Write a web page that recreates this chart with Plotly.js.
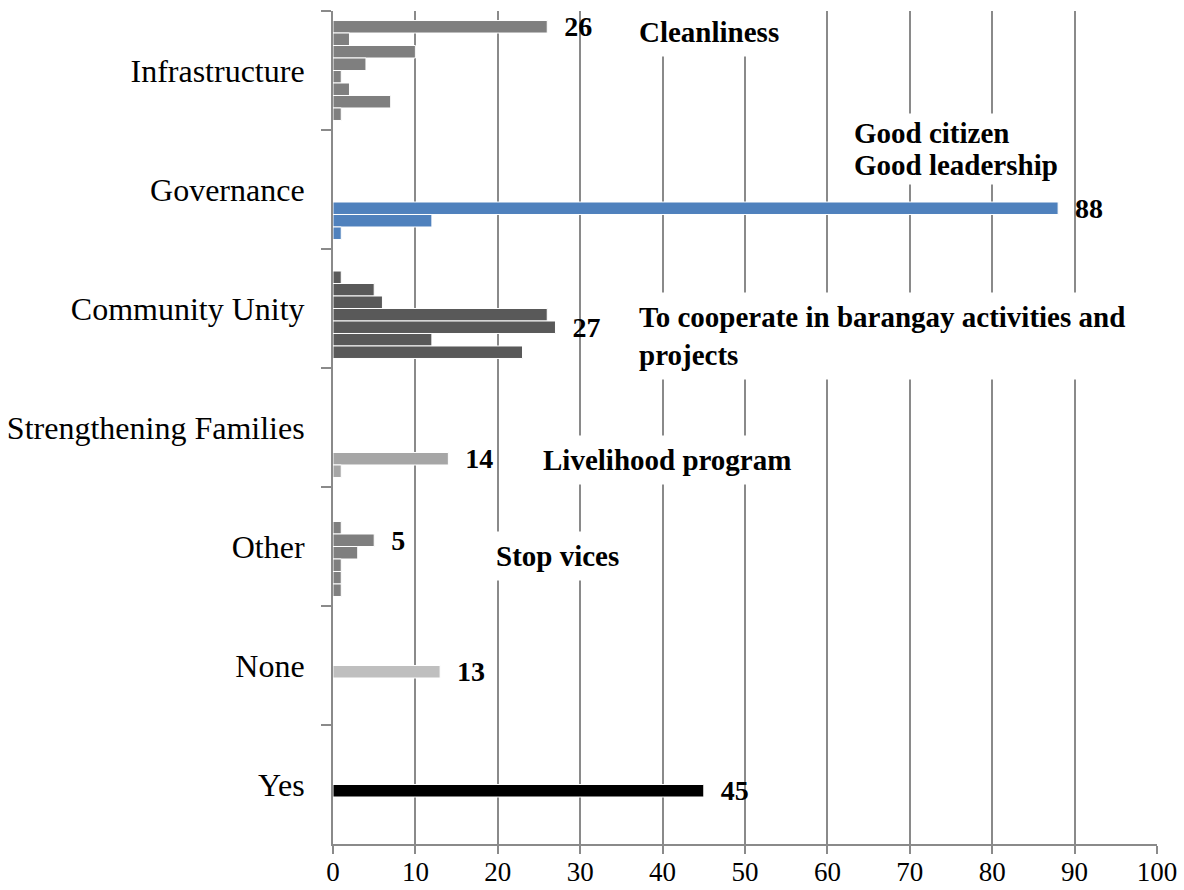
<!DOCTYPE html>
<html>
<head>
<meta charset="utf-8">
<script src="https://cdn.plot.ly/plotly-3.0.1.min.js"></script>
<style>html,body{margin:0;padding:0;background:#fff;}#chart{width:1184px;height:890px;}</style>
</head>
<body>
<div id="chart"></div>
<script>
// Categories, top to bottom
var categories = ['Infrastructure', 'Governance', 'Community Unity', 'Strengthening Families', 'Other', 'None', 'Yes'];

// Values per category, one entry per series slot (slot 0 = top bar in a group)
var infrastructure        = [26, 2, 10, 4, 1, 2, 7, 1];
var governance            = [null, null, null, null, null, 88, 12, 1];
var communityUnity        = [null, 1, 5, 6, 26, 27, 12, 23];
var strengtheningFamilies = [null, null, null, null, null, null, 14, 1];
var other                 = [null, null, 1, 5, 3, 1, 1, 1];
var none                  = [null, null, null, null, 13, null, null, null];
var yes                   = [null, null, null, null, 45, null, null, null];

// Which slot carries the value label in each category
var labelSlot = [0, 5, 5, 6, 3, 4, 4];

var categoryColors = ['#7f7f7f', '#4f81bd', '#595959', '#a6a6a6', '#7f7f7f', '#bfbfbf', '#000000'];

// Free-text notes
var noteTexts = ['Cleanliness', 'Good citizen', 'Good leadership',
                 'To cooperate in barangay activities and<br>projects',
                 'Livelihood program', 'Stop vices'];

var rows = [infrastructure, governance, communityUnity, strengtheningFamilies, other, none, yes];
var nSlots = 8;
var NB = '\u00a0\u00a0';

var traces = [];
for (var s = 0; s < nSlots; s++) {
  var xs = rows.map(function (r) { return r[s]; });
  var txt = rows.map(function (r, i) { return (labelSlot[i] === s && r[s] != null) ? NB + r[s] : ''; });
  traces.push({
    type: 'bar',
    orientation: 'h',
    y: categories,
    x: xs,
    text: txt,
    textposition: 'outside',
    constraintext: 'none',
    cliponaxis: false,
    textfont: {family: 'Liberation Serif', size: 28, color: '#000', weight: 'bold'},
    marker: {color: categoryColors, line: {color: '#ffffff', width: 1}},
    hoverinfo: 'x+y',
    showlegend: false
  });
}

// note placement (layout only)
var notePos = [
  {x: 37.0, y: 32, pad: 8},
  {x: 63.1, y: 133, pad: 3},
  {x: 63.1, y: 165, pad: 3},
  {x: 37.0, y: 336, pad: 8},
  {x: 25.4, y: 460, pad: 8},
  {x: 19.7, y: 556, pad: 8}
];
var plotTop = 11, plotBottom = 844;
var annotations = noteTexts.map(function (t, i) {
  return {
    text: '<b>' + t + '</b>',
    xref: 'x', yref: 'paper',
    x: notePos[i].x,
    y: (plotBottom - notePos[i].y) / (plotBottom - plotTop),
    xanchor: 'left', yanchor: 'middle', align: 'left',
    xshift: -notePos[i].pad,
    showarrow: false,
    bgcolor: '#ffffff',
    borderpad: notePos[i].pad,
    font: {family: 'Liberation Serif', size: 29, color: '#000'}
  };
});

var layout = {
  width: 1184, height: 890,
  margin: {l: 333, r: 27, t: 11, b: 46, pad: 0},
  paper_bgcolor: '#ffffff', plot_bgcolor: '#ffffff',
  barmode: 'group',
  bargap: 0.16,
  bargroupgap: 0,
  font: {family: 'Liberation Serif', color: '#000'},
  xaxis: {
    range: [0, 100], dtick: 10, tick0: 0,
    showgrid: true, gridcolor: '#8a8a8a', gridwidth: 2,
    zeroline: false,
    showline: true, linecolor: '#8a8a8a', linewidth: 2,
    ticks: 'outside', ticklen: 8, tickwidth: 2, tickcolor: '#8a8a8a',
    tickfont: {family: 'Liberation Serif', size: 27, color: '#000'},
    ticklabelstandoff: -5,
    fixedrange: true
  },
  yaxis: {
    type: 'category',
    categoryorder: 'array', categoryarray: categories,
    autorange: 'reversed',
    tickson: 'boundaries',
    ticks: 'outside', ticklen: 10, tickwidth: 2, tickcolor: '#8a8a8a',
    showline: true, linecolor: '#8a8a8a', linewidth: 2,
    showgrid: false, zeroline: false,
    tickfont: {family: 'Liberation Serif', size: 32, color: '#000'},
    ticklabelstandoff: 20,
    fixedrange: true
  },
  annotations: annotations
};

Plotly.newPlot('chart', traces, layout, {displayModeBar: false, staticPlot: true});
</script>
</body>
</html>
